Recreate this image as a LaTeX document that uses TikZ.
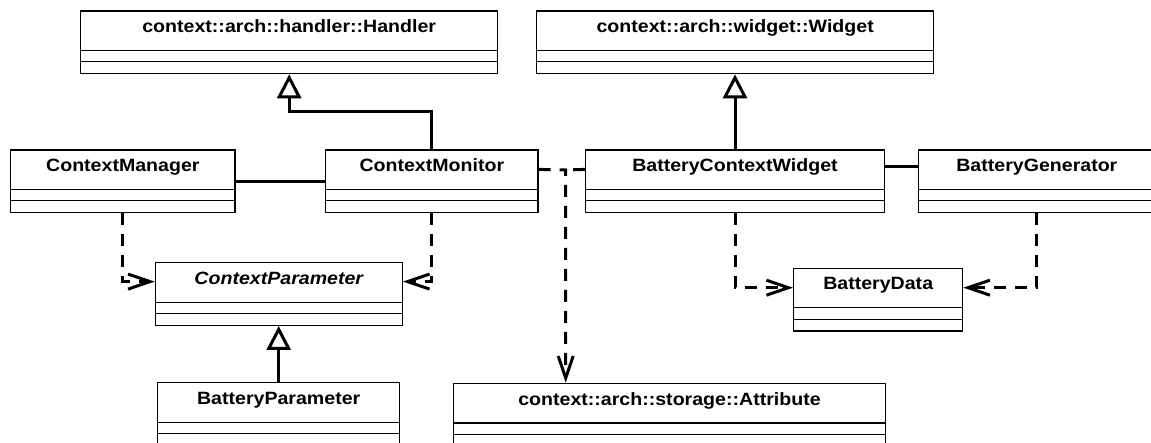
\documentclass[tikz,border=0pt]{standalone}
\usepackage{fontspec}
\setmainfont{Liberation Sans}
\usetikzlibrary{arrows.meta,calc,fit}
\tikzset{
  classbox/.style={draw, line width=1.2pt, inner sep=0pt},
  classtext/.style={anchor=base, inner sep=0pt, font=\fontsize{17.8}{20}\selectfont\bfseries},
  classitalic/.style={font=\fontsize{17.8}{20}\selectfont\bfseries\itshape},
  dep/.style={line width=3pt, dash pattern=on 12pt off 9pt, -{Straight Barb[length=22pt,width=15pt]}},
  plaindash/.style={line width=3pt, dash pattern=on 12pt off 9pt},
  gen/.style={line width=3pt, -{Triangle[open,length=24pt,width=24pt,fill=white]}},
  assoc/.style={line width=3pt},
}
\newcommand\umlclass[6][]{%
  \node[classbox, fit={(#3,#5) (#4,#5+62.7)}] (#2) {};
  \draw[line width=1.2pt] ($(#2.north west)+(0,40.2)$) -- ($(#2.north east)+(0,40.2)$);
  \draw[line width=1.2pt] ($(#2.north west)+(0,51.5)$) -- ($(#2.north east)+(0,51.5)$);
  \node[classtext,#1] (#2-t) at ($(#2.north)+(0,22.3)$) {\scalebox{1.1}[1]{#6}};
}
\begin{document}
\begin{tikzpicture}[x=1pt,y=-1pt]
\useasboundingbox (0,0) rectangle (1151,443);
\clip (0,0) rectangle (1151,443);
\fill[white] (0,0) rectangle (1151,443);

\umlclass{handler}{80.7}{497.7}{11}{context::arch::handler::Handler}
\umlclass{widget}{536.7}{933.7}{11}{context::arch::widget::Widget}
\umlclass{cmgr}{10.7}{235}{150}{ContextManager}
\umlclass{cm}{325.7}{538}{150}{ContextMonitor}
\umlclass{bcw}{585.7}{884.3}{150}{BatteryContextWidget}
\umlclass{bg}{918.7}{1155}{150}{BatteryGenerator}
\umlclass[classitalic]{cp}{155.3}{402.3}{262.7}{ContextParameter}
\umlclass{bd}{793.7}{962.7}{268.3}{BatteryData}
\umlclass{bp}{157.7}{399.7}{382.7}{BatteryParameter}
\umlclass{attr}{453.3}{885.7}{383.3}{context::arch::storage::Attribute}

% generalizations
\draw[gen] (cm.north) -- ++(0,-37.7) -| (handler.south);
\draw[gen] (bcw.north) -- (bcw.north |- widget.south);
\draw[gen] (bp.north) -- (bp.north |- cp.south);

% associations
\draw[assoc] ($(cmgr.north east)+(0,31.7)$) -- ($(cm.north west)+(0,31.7)$);
\draw[assoc] ($(bcw.north east)+(0,16.7)$) -- ($(bg.north west)+(0,16.7)$);

% dependencies
\draw[dep] (cmgr.south) |- ($(cp.north west)+(0,19.5)$);
\draw[dep] (cm.south) |- ($(cp.north east)+(0,19.5)$);
\draw[dep] (bcw.south) |- ($(bd.north west)+(0,20)$);
\draw[dep] (bg.south) |- ($(bd.north east)+(0,20)$);
\coordinate (j) at (565.7,170);
\draw[dep] ($(cm.north east)+(0,20)$) -- (j) -- (j |- attr.north);
\draw[plaindash] ($(bcw.north west)+(0,20)$) -- (j);
\end{tikzpicture}
\end{document}
